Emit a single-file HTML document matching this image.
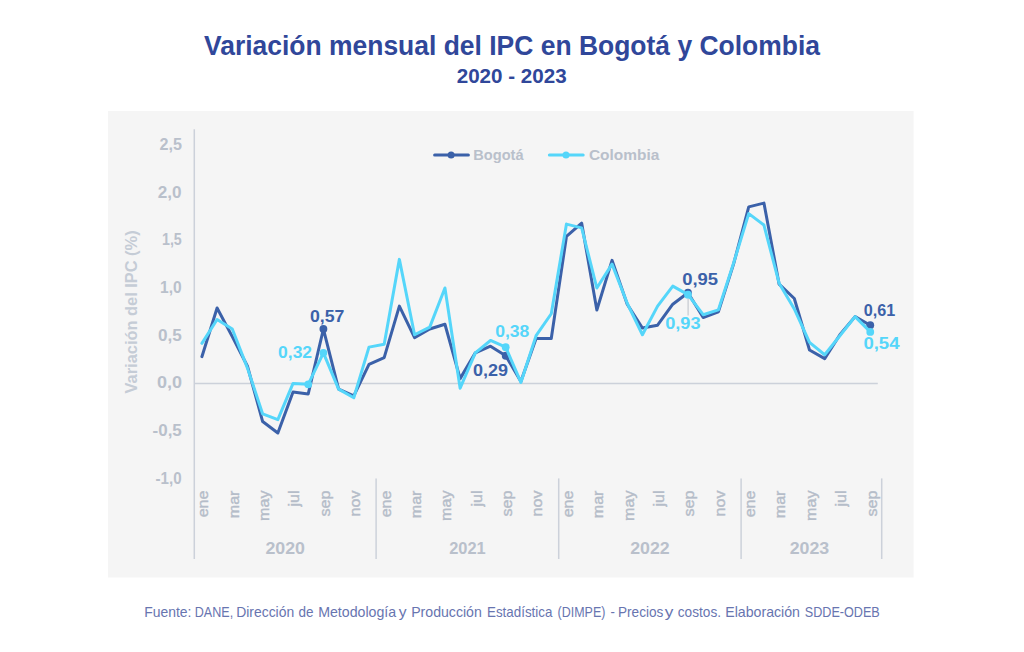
<!DOCTYPE html>
<html><head><meta charset="utf-8"><title>Variación mensual del IPC en Bogotá y Colombia</title>
<style>
html,body{margin:0;padding:0;background:#ffffff;}
body{width:1024px;height:652px;overflow:hidden;font-family:"Liberation Sans", sans-serif;}
svg{display:block;}
text{font-family:"Liberation Sans", sans-serif;}
</style></head><body>
<svg width="1024" height="652" viewBox="0 0 1024 652">
<rect x="0" y="0" width="1024" height="652" fill="#ffffff"/>
<rect x="108" y="111" width="805.6" height="466.5" fill="#f5f5f5"/>
<text x="204" y="55.4" font-size="27.5" font-weight="bold" fill="#30479a" textLength="616" lengthAdjust="spacingAndGlyphs">Variación mensual del IPC en Bogotá y Colombia</text>
<text x="456.7" y="83" font-size="19.5" font-weight="bold" fill="#30479a" textLength="110" lengthAdjust="spacingAndGlyphs">2020 - 2023</text>
<line x1="194.3" y1="129.3" x2="194.3" y2="559" stroke="#ccd1da" stroke-width="1.5"/>
<line x1="194.3" y1="383.4" x2="877.8" y2="383.4" stroke="#ccd1da" stroke-width="1.5"/>
<line x1="376.1" y1="478.4" x2="376.1" y2="559" stroke="#ccd1da" stroke-width="1.5"/>
<line x1="558.7" y1="478.4" x2="558.7" y2="559" stroke="#ccd1da" stroke-width="1.5"/>
<line x1="741.1" y1="478.4" x2="741.1" y2="559" stroke="#ccd1da" stroke-width="1.5"/>
<line x1="881.7" y1="478.4" x2="881.7" y2="559" stroke="#ccd1da" stroke-width="1.5"/>
<text x="159.6" y="149.8" font-size="16" font-weight="bold" fill="#b9c0cb" textLength="22.4" lengthAdjust="spacingAndGlyphs">2,5</text>
<text x="157.8" y="197.5" font-size="16" font-weight="bold" fill="#b9c0cb" textLength="23.8" lengthAdjust="spacingAndGlyphs">2,0</text>
<text x="162.0" y="245.2" font-size="16" font-weight="bold" fill="#b9c0cb" textLength="19.8" lengthAdjust="spacingAndGlyphs">1,5</text>
<text x="160.0" y="292.9" font-size="16" font-weight="bold" fill="#b9c0cb" textLength="21.6" lengthAdjust="spacingAndGlyphs">1,0</text>
<text x="158.0" y="340.6" font-size="16" font-weight="bold" fill="#b9c0cb" textLength="23.8" lengthAdjust="spacingAndGlyphs">0,5</text>
<text x="157.0" y="388.3" font-size="16" font-weight="bold" fill="#b9c0cb" textLength="25.0" lengthAdjust="spacingAndGlyphs">0,0</text>
<text x="152.6" y="436.0" font-size="16" font-weight="bold" fill="#b9c0cb" textLength="29.2" lengthAdjust="spacingAndGlyphs">-0,5</text>
<text x="155.6" y="483.7" font-size="16" font-weight="bold" fill="#b9c0cb" textLength="26.0" lengthAdjust="spacingAndGlyphs">-1,0</text>
<g transform="translate(137.2,393.4) rotate(-90)"><text x="0" y="0" font-size="16.5" font-weight="bold" fill="#c5ccd6" textLength="163" lengthAdjust="spacingAndGlyphs">Variación del IPC (%)</text></g>
<g transform="translate(208.2,490.5) rotate(-90) scale(1.04,1)"><text x="0" y="0" font-size="15.5" fill="#b5bdc9" stroke="#b5bdc9" stroke-width="0.4" text-anchor="end">ene</text></g>
<g transform="translate(238.6,490.5) rotate(-90) scale(1.04,1)"><text x="0" y="0" font-size="15.5" fill="#b5bdc9" stroke="#b5bdc9" stroke-width="0.4" text-anchor="end">mar</text></g>
<g transform="translate(269.0,490.5) rotate(-90) scale(1.04,1)"><text x="0" y="0" font-size="15.5" fill="#b5bdc9" stroke="#b5bdc9" stroke-width="0.4" text-anchor="end">may</text></g>
<g transform="translate(299.3,490.5) rotate(-90) scale(1.04,1)"><text x="0" y="0" font-size="15.5" fill="#b5bdc9" stroke="#b5bdc9" stroke-width="0.4" text-anchor="end">jul</text></g>
<g transform="translate(329.7,490.5) rotate(-90) scale(1.04,1)"><text x="0" y="0" font-size="15.5" fill="#b5bdc9" stroke="#b5bdc9" stroke-width="0.4" text-anchor="end">sep</text></g>
<g transform="translate(360.1,490.5) rotate(-90) scale(1.04,1)"><text x="0" y="0" font-size="15.5" fill="#b5bdc9" stroke="#b5bdc9" stroke-width="0.4" text-anchor="end">nov</text></g>
<g transform="translate(390.5,490.5) rotate(-90) scale(1.04,1)"><text x="0" y="0" font-size="15.5" fill="#b5bdc9" stroke="#b5bdc9" stroke-width="0.4" text-anchor="end">ene</text></g>
<g transform="translate(420.9,490.5) rotate(-90) scale(1.04,1)"><text x="0" y="0" font-size="15.5" fill="#b5bdc9" stroke="#b5bdc9" stroke-width="0.4" text-anchor="end">mar</text></g>
<g transform="translate(451.2,490.5) rotate(-90) scale(1.04,1)"><text x="0" y="0" font-size="15.5" fill="#b5bdc9" stroke="#b5bdc9" stroke-width="0.4" text-anchor="end">may</text></g>
<g transform="translate(481.6,490.5) rotate(-90) scale(1.04,1)"><text x="0" y="0" font-size="15.5" fill="#b5bdc9" stroke="#b5bdc9" stroke-width="0.4" text-anchor="end">jul</text></g>
<g transform="translate(512.0,490.5) rotate(-90) scale(1.04,1)"><text x="0" y="0" font-size="15.5" fill="#b5bdc9" stroke="#b5bdc9" stroke-width="0.4" text-anchor="end">sep</text></g>
<g transform="translate(542.4,490.5) rotate(-90) scale(1.04,1)"><text x="0" y="0" font-size="15.5" fill="#b5bdc9" stroke="#b5bdc9" stroke-width="0.4" text-anchor="end">nov</text></g>
<g transform="translate(572.8,490.5) rotate(-90) scale(1.04,1)"><text x="0" y="0" font-size="15.5" fill="#b5bdc9" stroke="#b5bdc9" stroke-width="0.4" text-anchor="end">ene</text></g>
<g transform="translate(603.1,490.5) rotate(-90) scale(1.04,1)"><text x="0" y="0" font-size="15.5" fill="#b5bdc9" stroke="#b5bdc9" stroke-width="0.4" text-anchor="end">mar</text></g>
<g transform="translate(633.5,490.5) rotate(-90) scale(1.04,1)"><text x="0" y="0" font-size="15.5" fill="#b5bdc9" stroke="#b5bdc9" stroke-width="0.4" text-anchor="end">may</text></g>
<g transform="translate(663.9,490.5) rotate(-90) scale(1.04,1)"><text x="0" y="0" font-size="15.5" fill="#b5bdc9" stroke="#b5bdc9" stroke-width="0.4" text-anchor="end">jul</text></g>
<g transform="translate(694.3,490.5) rotate(-90) scale(1.04,1)"><text x="0" y="0" font-size="15.5" fill="#b5bdc9" stroke="#b5bdc9" stroke-width="0.4" text-anchor="end">sep</text></g>
<g transform="translate(724.7,490.5) rotate(-90) scale(1.04,1)"><text x="0" y="0" font-size="15.5" fill="#b5bdc9" stroke="#b5bdc9" stroke-width="0.4" text-anchor="end">nov</text></g>
<g transform="translate(755.0,490.5) rotate(-90) scale(1.04,1)"><text x="0" y="0" font-size="15.5" fill="#b5bdc9" stroke="#b5bdc9" stroke-width="0.4" text-anchor="end">ene</text></g>
<g transform="translate(785.4,490.5) rotate(-90) scale(1.04,1)"><text x="0" y="0" font-size="15.5" fill="#b5bdc9" stroke="#b5bdc9" stroke-width="0.4" text-anchor="end">mar</text></g>
<g transform="translate(815.8,490.5) rotate(-90) scale(1.04,1)"><text x="0" y="0" font-size="15.5" fill="#b5bdc9" stroke="#b5bdc9" stroke-width="0.4" text-anchor="end">may</text></g>
<g transform="translate(846.2,490.5) rotate(-90) scale(1.04,1)"><text x="0" y="0" font-size="15.5" fill="#b5bdc9" stroke="#b5bdc9" stroke-width="0.4" text-anchor="end">jul</text></g>
<g transform="translate(876.6,490.5) rotate(-90) scale(1.04,1)"><text x="0" y="0" font-size="15.5" fill="#b5bdc9" stroke="#b5bdc9" stroke-width="0.4" text-anchor="end">sep</text></g>
<text x="285.2" y="553.6" font-size="17" font-weight="bold" fill="#b9c0cb" text-anchor="middle" textLength="39.5" lengthAdjust="spacingAndGlyphs">2020</text>
<text x="467.4" y="553.6" font-size="17" font-weight="bold" fill="#b9c0cb" text-anchor="middle" textLength="36.5" lengthAdjust="spacingAndGlyphs">2021</text>
<text x="649.9" y="553.6" font-size="17" font-weight="bold" fill="#b9c0cb" text-anchor="middle" textLength="39.5" lengthAdjust="spacingAndGlyphs">2022</text>
<text x="809.5" y="553.6" font-size="17" font-weight="bold" fill="#b9c0cb" text-anchor="middle" textLength="39.5" lengthAdjust="spacingAndGlyphs">2023</text>
<line x1="434.6" y1="155" x2="468.4" y2="155" stroke="#3b61a9" stroke-width="3" stroke-linecap="round"/><circle cx="451.1" cy="155" r="3.5" fill="#3b61a9"/>
<text x="473.3" y="160" font-size="15.5" font-weight="bold" fill="#b9c0cb" textLength="50.3" lengthAdjust="spacingAndGlyphs">Bogotá</text>
<line x1="549.4" y1="155.1" x2="583.2" y2="155.1" stroke="#55d6fa" stroke-width="3" stroke-linecap="round"/><circle cx="566" cy="155.1" r="3.5" fill="#55d6fa"/>
<text x="588.9" y="160.1" font-size="15.5" font-weight="bold" fill="#b9c0cb" textLength="70.4" lengthAdjust="spacingAndGlyphs">Colombia</text>
<path d="M201.90,356.69 L217.09,308.03 L232.28,336.65 L247.47,366.23 L262.66,421.56 L277.85,433.01 L293.04,391.99 L308.23,393.89 L323.42,329.02 L338.61,389.12 L353.80,395.80 L368.99,364.32 L384.18,357.64 L399.37,306.13 L414.56,337.61 L429.75,329.02 L444.94,324.25 L460.13,378.63 L475.32,352.87 L490.51,346.19 L505.70,355.73 L520.89,381.49 L536.08,338.56 L551.27,338.56 L566.46,236.48 L581.65,223.13 L596.84,309.94 L612.03,260.33 L627.22,304.22 L642.41,328.07 L657.60,325.21 L672.79,304.22 L687.98,292.77 L703.17,317.57 L718.36,311.85 L733.55,264.15 L748.74,206.91 L763.93,203.09 L779.12,284.18 L794.31,298.49 L809.50,350.01 L824.69,358.60 L839.88,334.75 L855.07,316.62 L870.26,325.21" fill="none" stroke="#3b61a9" stroke-width="3" stroke-linejoin="round" stroke-linecap="round"/>
<circle cx="323.42" cy="329.02" r="3.9" fill="#3b61a9"/>
<circle cx="505.70" cy="355.73" r="3.9" fill="#3b61a9"/>
<circle cx="687.98" cy="292.77" r="3.9" fill="#3b61a9"/>
<circle cx="870.26" cy="325.21" r="3.9" fill="#3b61a9"/>
<line x1="688.1" y1="296.6" x2="688.1" y2="315.6" stroke="#c5c9d0" stroke-width="1.2"/>
<path d="M201.90,343.33 L217.09,319.48 L232.28,329.02 L247.47,368.14 L262.66,413.93 L277.85,419.65 L293.04,383.40 L308.23,384.35 L323.42,352.87 L338.61,389.12 L353.80,397.71 L368.99,347.15 L384.18,344.29 L399.37,259.38 L414.56,334.75 L429.75,327.11 L444.94,288.00 L460.13,388.17 L475.32,352.87 L490.51,340.47 L505.70,347.15 L520.89,382.45 L536.08,335.70 L551.27,313.76 L566.46,224.08 L581.65,227.90 L596.84,288.00 L612.03,264.15 L627.22,303.26 L642.41,334.75 L657.60,306.13 L672.79,286.09 L687.98,294.68 L703.17,314.71 L718.36,309.94 L733.55,263.20 L748.74,213.59 L763.93,225.04 L779.12,283.23 L794.31,308.99 L809.50,342.38 L824.69,354.78 L839.88,335.70 L855.07,316.62 L870.26,331.88" fill="none" stroke="#55d6fa" stroke-width="3" stroke-linejoin="round" stroke-linecap="round"/>
<circle cx="308.23" cy="384.35" r="3.9" fill="#55d6fa"/>
<circle cx="323.42" cy="352.87" r="3.9" fill="#55d6fa"/>
<circle cx="505.70" cy="347.15" r="3.9" fill="#55d6fa"/>
<circle cx="687.98" cy="294.68" r="3.9" fill="#55d6fa"/>
<circle cx="870.26" cy="331.88" r="3.9" fill="#55d6fa"/>
<text x="309.9" y="321.7" font-size="16.5" font-weight="bold" fill="#3b61a9" textLength="34.4" lengthAdjust="spacingAndGlyphs">0,57</text>
<text x="278.1" y="357.8" font-size="16.5" font-weight="bold" fill="#55d6fa" textLength="34.0" lengthAdjust="spacingAndGlyphs">0,32</text>
<text x="495.2" y="337.3" font-size="16.5" font-weight="bold" fill="#55d6fa" textLength="34.2" lengthAdjust="spacingAndGlyphs">0,38</text>
<text x="473.1" y="376.0" font-size="16.5" font-weight="bold" fill="#3b61a9" textLength="35.0" lengthAdjust="spacingAndGlyphs">0,29</text>
<text x="682.2" y="284.5" font-size="16.5" font-weight="bold" fill="#3b61a9" textLength="35.9" lengthAdjust="spacingAndGlyphs">0,95</text>
<text x="665.2" y="328.8" font-size="16.5" font-weight="bold" fill="#55d6fa" textLength="35.4" lengthAdjust="spacingAndGlyphs">0,93</text>
<text x="863.7" y="316.2" font-size="16.5" font-weight="bold" fill="#3b61a9" textLength="31.5" lengthAdjust="spacingAndGlyphs">0,61</text>
<text x="863.4" y="348.8" font-size="16.5" font-weight="bold" fill="#55d6fa" textLength="36.1" lengthAdjust="spacingAndGlyphs">0,54</text>
<text x="144.2" y="616.7" font-size="14.5" fill="#6875b0" textLength="47.2" lengthAdjust="spacingAndGlyphs">Fuente:</text>
<text x="194.8" y="616.7" font-size="14.5" fill="#6875b0" textLength="38.4" lengthAdjust="spacingAndGlyphs">DANE,</text>
<text x="236.2" y="616.7" font-size="14.5" fill="#6875b0" textLength="58.0" lengthAdjust="spacingAndGlyphs">Dirección</text>
<text x="298.6" y="616.7" font-size="14.5" fill="#6875b0" textLength="15.0" lengthAdjust="spacingAndGlyphs">de</text>
<text x="318.2" y="616.7" font-size="14.5" fill="#6875b0" textLength="78.0" lengthAdjust="spacingAndGlyphs">Metodología</text>
<text x="398.8" y="616.7" font-size="14.5" fill="#6875b0" textLength="7.8" lengthAdjust="spacingAndGlyphs">y</text>
<text x="411.2" y="616.7" font-size="14.5" fill="#6875b0" textLength="70.6" lengthAdjust="spacingAndGlyphs">Producción</text>
<text x="487.0" y="616.7" font-size="14.5" fill="#6875b0" textLength="65.4" lengthAdjust="spacingAndGlyphs">Estadística</text>
<text x="557.6" y="616.7" font-size="14.5" fill="#6875b0" textLength="47.8" lengthAdjust="spacingAndGlyphs">(DIMPE)</text>
<text x="610.4" y="616.7" font-size="14.5" fill="#6875b0" textLength="4.4" lengthAdjust="spacingAndGlyphs">-</text>
<text x="618.0" y="616.7" font-size="14.5" fill="#6875b0" textLength="45.4" lengthAdjust="spacingAndGlyphs">Precios</text>
<text x="664.8" y="616.7" font-size="14.5" fill="#6875b0" textLength="8.6" lengthAdjust="spacingAndGlyphs">y</text>
<text x="677.8" y="616.7" font-size="14.5" fill="#6875b0" textLength="43.2" lengthAdjust="spacingAndGlyphs">costos.</text>
<text x="725.2" y="616.7" font-size="14.5" fill="#6875b0" textLength="74.8" lengthAdjust="spacingAndGlyphs">Elaboración</text>
<text x="804.8" y="616.7" font-size="14.5" fill="#6875b0" textLength="75.0" lengthAdjust="spacingAndGlyphs">SDDE-ODEB</text>
</svg>
</body></html>
